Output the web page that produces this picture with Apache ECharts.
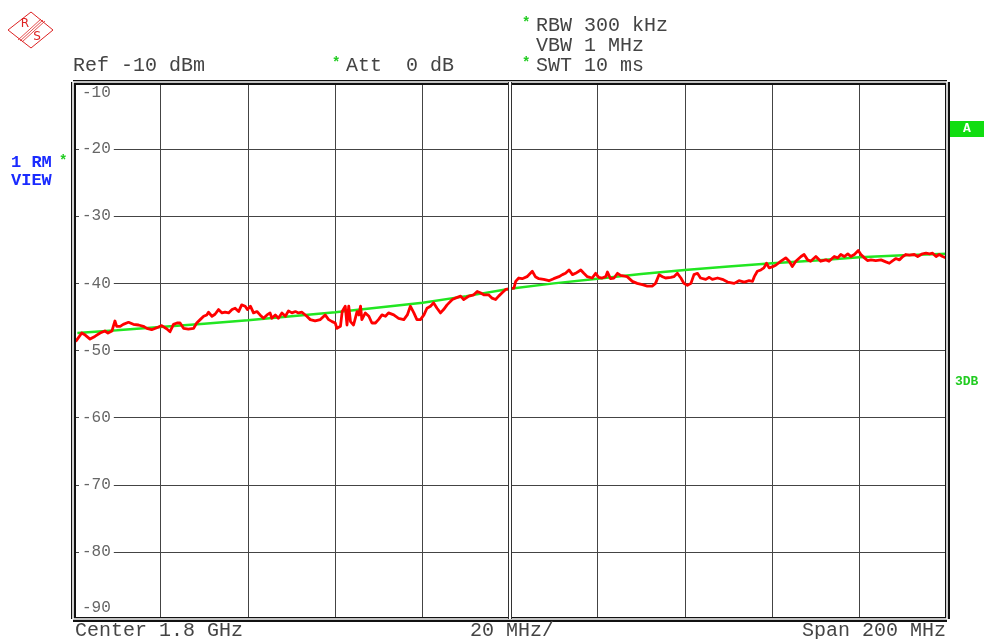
<!DOCTYPE html>
<html>
<head>
<meta charset="utf-8">
<script src="https://cdn.jsdelivr.net/npm/echarts@6/dist/echarts.min.js"></script>
<style>
    html, body { margin: 0; padding: 0; background: #fff; }
    #chart { width: 984px; height: 639px; }
</style>
</head>
<body>
<div id="chart"></div>
<script>
// trace 1 (RM, view) - frequency in MHz
var traceMHz = [
    1700.0, 1700.8, 1702.0, 1702.8, 1703.9, 1705.0, 1706.2, 1707.3, 1708.0, 1708.9,
    1709.6, 1710.0, 1710.8, 1711.5, 1712.7, 1713.8, 1715.0, 1716.1, 1716.9, 1718.0,
    1719.2, 1720.3, 1721.5, 1722.2, 1723.0, 1723.8, 1724.5, 1725.3, 1726.4, 1727.6,
    1728.3, 1729.1, 1729.9, 1730.6, 1731.0, 1731.8, 1732.5, 1733.3, 1734.1, 1734.8,
    1735.6, 1736.4, 1737.1, 1737.9, 1738.6, 1739.4, 1739.9, 1740.6, 1741.3, 1742.1,
    1742.8, 1743.6, 1744.4, 1745.1, 1745.5, 1746.3, 1747.0, 1747.8, 1748.6, 1749.3,
    1750.1, 1750.9, 1751.6, 1752.4, 1753.5, 1754.3, 1755.4, 1756.6, 1757.7, 1758.5,
    1759.3, 1760.0, 1760.4, 1761.2, 1761.6, 1762.3, 1762.7, 1763.1, 1763.5, 1764.2,
    1765.0, 1765.4, 1765.8, 1766.1, 1766.9, 1767.7, 1768.4, 1769.2, 1769.9, 1770.7,
    1771.5, 1772.2, 1773.4, 1774.5, 1775.7, 1776.5, 1777.2, 1778.0, 1778.7, 1779.5,
    1780.3, 1781.0, 1781.8, 1782.5, 1783.3, 1784.1, 1784.8, 1785.6, 1786.8, 1787.5,
    1788.7, 1789.4, 1790.6, 1791.7, 1792.5, 1793.2, 1794.0, 1795.1, 1795.9, 1796.7,
    1797.4, 1798.2, 1799.0, 1800.1, 1800.9, 1801.3, 1802.0, 1802.8, 1803.9, 1805.1,
    1805.8, 1806.6, 1807.7, 1808.9, 1810.0, 1811.2, 1812.0, 1812.7, 1813.5, 1814.3,
    1815.0, 1816.2, 1816.9, 1817.7, 1818.8, 1819.6, 1820.3, 1821.1, 1821.9, 1822.3,
    1823.0, 1823.8, 1824.6, 1825.3, 1826.8, 1828.0, 1829.1, 1830.3, 1831.4, 1832.6,
    1833.3, 1834.1, 1834.9, 1835.6, 1836.8, 1837.5, 1838.3, 1839.1, 1839.8, 1840.6,
    1841.4, 1842.1, 1842.9, 1843.6, 1844.8, 1845.6, 1846.3, 1847.5, 1848.6, 1849.8,
    1851.3, 1852.4, 1853.6, 1854.7, 1855.5, 1855.9, 1856.6, 1857.4, 1858.1, 1858.7,
    1859.3, 1860.1, 1860.8, 1862.0, 1863.1, 1863.9, 1864.6, 1865.4, 1866.6, 1867.3,
    1868.1, 1868.8, 1870.0, 1871.1, 1872.3, 1873.0, 1874.2, 1875.0, 1875.7, 1876.5,
    1877.3, 1878.0, 1878.8, 1879.7, 1880.3, 1881.1, 1881.8, 1882.6, 1883.7, 1884.9,
    1886.0, 1886.8, 1887.6, 1888.3, 1889.1, 1889.9, 1890.6, 1891.4, 1892.5, 1893.3,
    1894.4, 1895.2, 1896.0, 1896.7, 1897.5, 1898.2, 1899.0, 1899.8
];
// trace 1 level in dBm
var traceDbm = [
    -48.8, -48.5, -47.4, -47.7, -48.3, -47.9, -47.4, -47.1, -47.4, -47.1,
    -45.6, -46.4, -46.4, -46.1, -45.8, -46.1, -46.2, -46.4, -46.7, -46.9,
    -46.6, -46.3, -46.8, -47.2, -46.1, -45.9, -45.9, -46.7, -46.8, -46.7,
    -45.9, -45.4, -44.9, -44.7, -44.3, -44.9, -44.6, -43.9, -44.4, -44.3,
    -44.4, -43.9, -43.7, -44.2, -43.2, -43.4, -43.9, -43.4, -44.4, -44.2,
    -44.7, -45.2, -44.7, -44.4, -45.2, -44.7, -45.2, -44.4, -44.9, -44.1,
    -44.4, -44.2, -44.4, -44.3, -44.9, -45.4, -45.6, -45.4, -44.7, -45.4,
    -45.7, -45.9, -46.7, -46.4, -44.2, -43.4, -46.2, -43.4, -45.7, -46.2,
    -44.2, -44.7, -43.4, -45.4, -44.4, -44.9, -45.9, -45.9, -45.4, -44.7,
    -44.9, -44.4, -44.7, -45.2, -45.4, -44.7, -43.4, -44.4, -45.4, -45.4,
    -44.7, -43.7, -43.4, -42.9, -43.7, -44.4, -43.9, -43.2, -42.4, -42.2,
    -41.9, -42.4, -41.9, -41.7, -41.2, -41.4, -41.7, -41.7, -42.2, -42.4,
    -41.9, -41.4, -40.9, -40.8, -40.7, -39.7, -39.2, -39.3, -39.0, -38.2,
    -39.0, -39.3, -39.4, -39.6, -39.3, -39.0, -38.7, -38.5, -38.0, -38.7,
    -38.5, -38.0, -38.5, -39.0, -39.2, -38.5, -39.1, -39.2, -39.0, -38.3,
    -39.3, -39.2, -38.5, -38.8, -39.0, -39.7, -40.0, -40.2, -40.4, -40.4,
    -40.0, -38.7, -39.0, -39.2, -39.1, -39.0, -38.5, -39.2, -40.0, -40.3,
    -40.0, -38.7, -38.5, -39.2, -39.4, -39.1, -39.4, -39.2, -39.4, -39.8,
    -40.0, -39.6, -39.8, -39.6, -39.7, -39.0, -38.2, -38.0, -37.7, -37.0,
    -37.7, -37.5, -37.3, -36.7, -36.2, -36.7, -37.5, -36.7, -36.0, -35.7,
    -36.5, -36.7, -36.0, -36.7, -36.5, -36.7, -36.0, -36.2, -35.7, -36.0,
    -35.6, -36.0, -35.7, -35.1, -35.7, -36.2, -36.6, -36.5, -36.6, -36.5,
    -36.8, -37.0, -36.6, -36.3, -36.5, -36.0, -35.7, -35.8, -35.7, -36.0,
    -35.6, -35.5, -35.6, -35.5, -36.0, -35.7, -36.0, -36.2
];

// green reference line (3DB)
var refMHz = [1701, 1710, 1720, 1730, 1740, 1750, 1760, 1770, 1780, 1790, 1800,
              1810, 1820, 1830, 1840, 1850, 1860, 1870, 1880, 1890, 1900];
var refDbm = [-47.4, -47.0, -46.5, -46.0, -45.5, -44.9, -44.3, -43.6, -42.9, -41.9, -40.8,
              -40.0, -39.3, -38.6, -38.0, -37.5, -37.0, -36.6, -36.1, -35.8, -35.6];

// axes
var freqStart = 1700, freqCenter = 1800, freqStop = 1900, freqDiv = 20;
var levelTop = -10, levelBottom = -90, levelDiv = 10;

// instrument texts
var refText = 'Ref -10 dBm';
var attText = 'Att  0 dB';
var rbwText = 'RBW 300 kHz';
var vbwText = 'VBW 1 MHz';
var swtText = 'SWT 10 ms';
var centerText = 'Center 1.8 GHz';
var divText = '20 MHz/';
var spanText = 'Span 200 MHz';

var mono = '"Liberation Mono", "DejaVu Sans Mono", monospace';
var txtColor = '#444';
var starColor = '#22cc22';

function txt(x, y, s, opt) {
    opt = opt || {};
    return {
        type: 'text', x: x, y: y, silent: true, z: 10,
        style: {
            text: s,
            font: (opt.weight || 'normal') + ' ' + (opt.size || 20) + 'px ' + mono,
            fill: opt.color || txtColor,
            textAlign: opt.align || 'left',
            textVerticalAlign: 'middle'
        }
    };
}

// double line = wide dark line with a thin white line on top
function doubleLine(lines, color, outer, inner) {
    return [{
        type: 'line', data: [], z: 1,
        markLine: {
            silent: true, symbol: 'none', label: { show: false },
            lineStyle: { color: color, width: outer, type: 'solid' },
            data: lines
        }
    }, {
        type: 'line', data: [], z: 1,
        markLine: {
            silent: true, symbol: 'none', label: { show: false },
            lineStyle: { color: '#fff', width: inner, type: 'solid' },
            data: lines
        }
    }];
}

var frameLines = [{ xAxis: freqStart }, { xAxis: freqStop }, { yAxis: levelTop }, { yAxis: levelBottom }];
var centerLines = [{ xAxis: freqCenter }];

var myChart = echarts.init(document.getElementById('chart'));

myChart.setOption({
    animation: false,
    backgroundColor: '#fff',
    grid: {
        left: 73,
        right: 37,
        top: 82,
        bottom: 20,
        show: false
    },
    xAxis: {
        type: 'value',
        min: freqStart,
        max: freqStop,
        interval: freqDiv,
        axisLine: { show: false },
        axisTick: { show: false },
        axisLabel: { show: false },
        splitLine: { show: true, lineStyle: { color: '#444', width: 1 } }
    },
    yAxis: {
        type: 'value',
        min: levelBottom,
        max: levelTop,
        interval: levelDiv,
        axisLine: { show: false },
        axisTick: { show: false },
        splitLine: { show: true, lineStyle: { color: '#444', width: 1 } },
        axisLabel: {
            inside: true,
            margin: 6,
            color: '#666',
            fontFamily: mono,
            fontSize: 16,
            backgroundColor: '#fff',
            padding: [3, 3, 3, 3],
            verticalAlignMinLabel: 'bottom',
            verticalAlignMaxLabel: 'top'
        }
    },
    series: doubleLine(frameLines, '#111', 5, 1.6)
        .concat(doubleLine(centerLines, '#333', 4, 2))
        .concat([
        {
            name: '3DB',
            type: 'line',
            z: 3,
            showSymbol: false,
            data: refMHz.map(function (f, i) { return [f, refDbm[i]]; }),
            lineStyle: { color: '#22e622', width: 2.5 }
        },
        {
            name: '1 RM',
            type: 'line',
            z: 4,
            showSymbol: false,
            data: traceMHz.map(function (f, i) { return [f, traceDbm[i]]; }),
            lineStyle: { color: '#ff0000', width: 2.8, join: 'round' }
        }
    ]),
    graphic: [
        // R&S logo
        {
            type: 'group', x: 0, y: 0, silent: true,
            children: [
                { type: 'polygon', shape: { points: [[8, 30], [31, 12], [53, 30], [31, 48]] },
                  style: { fill: 'none', stroke: '#dd2222', lineWidth: 1 } },
                { type: 'line', shape: { x1: 18, y1: 40, x2: 41, y2: 19 }, style: { stroke: '#dd2222', lineWidth: 0.8 } },
                { type: 'line', shape: { x1: 20, y1: 41, x2: 43, y2: 20 }, style: { stroke: '#dd2222', lineWidth: 0.8 } },
                { type: 'line', shape: { x1: 22, y1: 42, x2: 45, y2: 21 }, style: { stroke: '#dd2222', lineWidth: 0.8 } },
                { type: 'text', x: 25, y: 24, style: { text: 'R', font: '12px "DejaVu Sans"', fill: '#dd2222', textAlign: 'center', textVerticalAlign: 'middle' } },
                { type: 'text', x: 37, y: 37, style: { text: 'S', font: '12px "DejaVu Sans"', fill: '#dd2222', textAlign: 'center', textVerticalAlign: 'middle' } }
            ]
        },
        txt(522, 23, '*', { color: starColor, size: 14, weight: 'bold' }),
        txt(536, 26, rbwText),
        txt(536, 46, vbwText),
        txt(522, 63, '*', { color: starColor, size: 14, weight: 'bold' }),
        txt(536, 66, swtText),
        txt(73, 66, refText),
        txt(332, 63, '*', { color: starColor, size: 14, weight: 'bold' }),
        txt(346, 66, attText),
        txt(11, 163, '1 RM', { color: '#1a2bff', size: 17, weight: 'bold' }),
        txt(59, 161, '*', { color: starColor, size: 14, weight: 'bold' }),
        txt(11, 181, 'VIEW', { color: '#1a2bff', size: 17, weight: 'bold' }),
        {
            type: 'rect', silent: true, z: 10,
            shape: { x: 950, y: 121, width: 34, height: 16 },
            style: { fill: '#11dd11' }
        },
        txt(967, 129, 'A', { color: '#fff', size: 13, weight: 'bold', align: 'center' }),
        txt(955, 382, '3DB', { color: '#22cc22', size: 13, weight: 'bold' }),
        txt(75, 631, centerText),
        txt(470, 631, divText),
        txt(946, 631, spanText, { align: 'right' })
    ]
});
</script>
</body>
</html>
